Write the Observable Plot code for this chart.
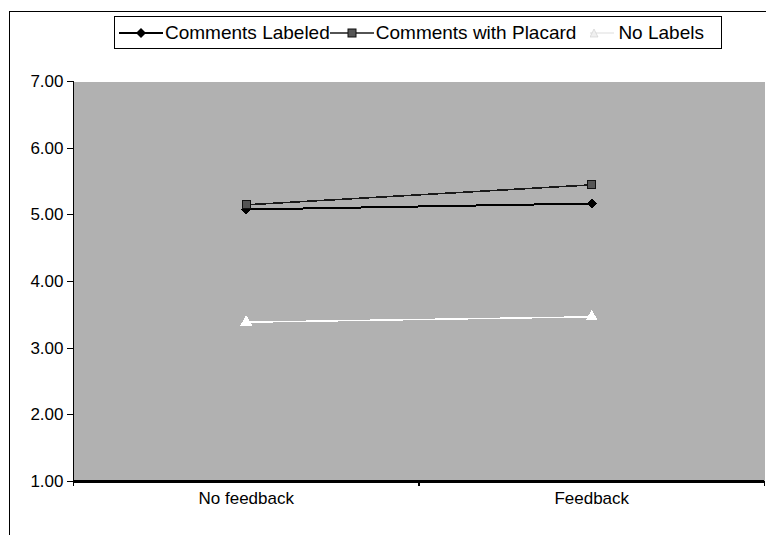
<!DOCTYPE html>
<html>
<head>
<meta charset="utf-8">
<script src="https://cdn.jsdelivr.net/npm/d3@7"></script>
<script src="https://cdn.jsdelivr.net/npm/@observablehq/plot@0.6"></script>
<style>
  html, body { margin: 0; padding: 0; background: #fff; }
  body { font-family: "Liberation Sans", Arial, sans-serif; }
  #wrap { position: relative; width: 766px; height: 535px; overflow: hidden; }
  #outer { position: absolute; left: 9px; top: 11px; width: 800px; height: 600px;
           border-left: 1.5px solid #000; border-top: 1.5px solid #000; }
  #legend { position: absolute; left: 114px; top: 16px; width: 606px; height: 31px;
            border: 1.5px solid #000; background: #fff; display: flex; align-items: center;
            font-size: 19px; color: #000; white-space: nowrap; }
  #legend .item { display: flex; align-items: center; }
  #legend svg { display: block; }
  #chart { position: absolute; left: 0; top: 0; }
</style>
</head>
<body>
<div id="wrap">
  <div id="outer"></div>
  <div id="chart"></div>
  <div id="legend"></div>
</div>
<script>
const categories = ["No feedback", "Feedback"];
const seriesNames = ["Comments Labeled", "Comments with Placard", "No Labels"];
const commentsLabeled = [5.08, 5.17];
const commentsPlacard = [5.15, 5.45];
const noLabels = [3.39, 3.47];
const yTicks = [1, 2, 3, 4, 5, 6, 7];
const xEdges = [0, 1, 2];

const toRows = vals => categories.map((c, i) => ({ category: c, pos: i + 0.5, value: vals[i] }));
const rowsLabeled = toRows(commentsLabeled);
const rowsPlacard = toRows(commentsPlacard);
const rowsNone = toRows(noLabels);

const chart = Plot.plot({
  width: 766,
  height: 535,
  marginLeft: 73,
  marginRight: 2,
  marginTop: 81,
  marginBottom: 54,
  style: { fontFamily: "'Liberation Sans', Arial, sans-serif", fontSize: "17px", color: "#000", background: "transparent" },
  x: { type: "linear", domain: [0, 2], label: null },
  y: { domain: [1, 7], label: null },
  marks: [
    Plot.frame({ fill: "url(#dither)", stroke: "none" }),
    Plot.ruleX([0], { stroke: "#000", strokeWidth: 1.5 }),
    Plot.ruleY([1], { stroke: "#000", strokeWidth: 2.5 }),
    Plot.axisY(yTicks, { tickFormat: d3.format(".2f"), tickSize: 6, tickPadding: 4, fontSize: 17, stroke: "#000", strokeWidth: 1.2, label: null }),
    Plot.axisX(xEdges, { tickFormat: () => "", tickSize: 5, stroke: "#000", strokeWidth: 1.2, label: null }),
    Plot.axisX([0.5, 1.5], { tickSize: 0, tickPadding: 10, fontSize: 17, label: null, tickFormat: d => categories[Math.round(d - 0.5)] }),
    Plot.line(rowsNone, { x: "pos", y: "value", stroke: "#fff", strokeWidth: 1.5 }),
    Plot.dot(rowsNone, { x: "pos", y: "value", symbol: "triangle", r: 4.5, fill: "#fff", stroke: "none" }),
    Plot.line(rowsPlacard, { x: "pos", y: "value", stroke: "#1a1a1a", strokeWidth: 1.6 }),
    Plot.line(rowsLabeled, { x: "pos", y: "value", stroke: "#000", strokeWidth: 2 }),
    Plot.dot(rowsLabeled, { x: "pos", y: "value", symbol: "diamond2", r: 4.5, fill: "#000", stroke: "none" }),
    Plot.dot(rowsPlacard, { x: "pos", y: "value", symbol: "square", r: 4.5, fill: "#555", stroke: "#111", strokeWidth: 1 })
  ]
});

// dithered gray fill for the plot area
const ns = "http://www.w3.org/2000/svg";
const defs = document.createElementNS(ns, "defs");
defs.innerHTML = `<pattern id="dither" patternUnits="userSpaceOnUse" width="2" height="2">
  <rect x="0" y="0" width="2" height="2" fill="#d4d4d4"/>
  <rect x="0" y="0" width="1" height="1" fill="#8e8e8e"/>
  <rect x="1" y="1" width="1" height="1" fill="#8e8e8e"/>
</pattern>`;
chart.insertBefore(defs, chart.firstChild);
chart.style.shapeRendering = "crispEdges";
document.getElementById("chart").appendChild(chart);

// legend
const legend = document.getElementById("legend");
const legendSpecs = [
  { name: seriesNames[0], stroke: "#000", sw: 2, sym: "diamond", fill: "#000", w: 44, padL: 4, gap: 2 },
  { name: seriesNames[1], stroke: "#1a1a1a", sw: 1.6, sym: "square", fill: "#555", w: 44, padL: 0, gap: 2 },
  { name: seriesNames[2], stroke: "#e8e8e8", sw: 1.5, sym: "triangle", fill: "#f0f0f0", w: 24, padL: 14, gap: 4 }
];
legendSpecs.forEach(s => {
  const item = document.createElement("div");
  item.className = "item";
  item.style.marginLeft = s.padL + "px";
  const w = s.w, h = 20, cx = w / 2, cy = 10;
  let marker = "";
  if (s.sym === "diamond") marker = `<path d="M${cx},${cy-5}L${cx+5},${cy}L${cx},${cy+5}L${cx-5},${cy}Z" fill="${s.fill}"/>`;
  if (s.sym === "square") marker = `<rect x="${cx-4}" y="${cy-4}" width="8" height="8" fill="${s.fill}" stroke="#111"/>`;
  if (s.sym === "triangle") marker = `<path d="M${cx-8},${cy-4}L${cx-4},${cy+4}L${cx-12},${cy+4}Z" fill="${s.fill}" stroke="#ccc" stroke-width="0.6"/>`;
  item.innerHTML = `<svg width="${w}" height="${h}"><line x1="0" x2="${w}" y1="${cy}" y2="${cy}" stroke="${s.stroke}" stroke-width="${s.sw}"/>${marker}</svg><span style="margin-left:${s.gap}px">${s.name}</span>`;
  legend.appendChild(item);
});
</script>
</body>
</html>
